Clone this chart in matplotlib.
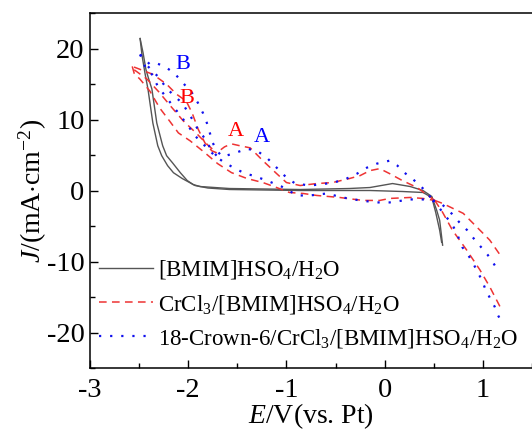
import matplotlib
matplotlib.use("Agg")
import matplotlib.pyplot as plt
from matplotlib.ticker import MultipleLocator

plt.rcParams['font.family'] = ['Liberation Serif', 'DejaVu Serif']
plt.rcParams['mathtext.fontset'] = 'custom'
plt.rcParams['mathtext.rm'] = 'Liberation Serif'
plt.rcParams['mathtext.it'] = 'Liberation Serif:italic'

# ---------------- data (E / V vs Pt, J / mA cm^-2) ----------------
# [BMIM]HSO4/H2O  (two nearly overlapping branches)
gray_a_E = [-2.49, -2.46, -2.43, -2.40, -2.37, -2.32, -2.26, -2.22, -2.16, -2.08, -2.01, -1.95, -1.88, -1.58, -0.86, -0.36, -0.15, 0.08, 0.26, 0.39, 0.48, 0.53, 0.56, 0.59]
gray_a_J = [21.4, 19.4, 17.0, 15.6, 14.3, 9.5, 6.3, 4.9, 3.9, 2.5, 1.4, 0.84, 0.56, 0.28, 0.14, 0.28, 0.42, 0.98, 0.56, 0.0, -0.84, -2.8, -4.2, -7.7]
gray_b_E = [-2.49, -2.47, -2.44, -2.41, -2.36, -2.31, -2.27, -2.21, -2.15, -2.06, -1.93, -1.80, -1.58, -0.86, -0.15, 0.18, 0.39, 0.48, 0.52, 0.56, 0.58]
gray_b_J = [21.4, 19.0, 16.5, 14.3, 9.5, 6.3, 4.9, 3.5, 2.5, 1.68, 0.7, 0.35, 0.14, 0.0, 0.0, -0.14, -0.28, -0.98, -3.1, -5.6, -7.3]

# CrCl3/[BMIM]HSO4/H2O
red_up_E = [0.51, 0.44, 0.33, 0.18, 0.05, -0.05, -0.15, -0.25, -0.36, -0.53, -0.69, -0.86, -1.00, -1.10, -1.24, -1.37, -1.47, -1.56, -1.63, -1.71, -1.76, -1.83, -1.90, -1.96, -2.02, -2.12, -2.22, -2.36, -2.49, -2.57]
red_up_J = [-1.40, -0.70, 0.42, 1.40, 2.38, 3.08, 2.80, 2.10, 1.68, 1.12, 0.98, 0.70, 1.12, 2.38, 4.20, 6.01, 6.29, 6.57, 6.15, 5.31, 5.59, 6.71, 8.67, 10.91, 12.59, 13.57, 14.97, 16.36, 17.06, 17.48]
red_lo_E = [-2.57, -2.55, -2.49, -2.39, -2.29, -2.19, -2.10, -1.98, -1.83, -1.70, -1.56, -1.40, -1.24, -1.10, -0.97, -0.83, -0.69, -0.46, -0.22, -0.05, 0.05, 0.26, 0.39, 0.51]
red_lo_J = [17.48, 16.50, 15.66, 13.99, 11.61, 9.79, 8.11, 6.99, 5.31, 3.78, 2.52, 1.68, 1.12, 0.42, -0.28, -0.42, -0.70, -0.98, -1.40, -1.40, -1.12, -0.98, -1.12, -1.40]
red_mid_E = [-2.55, -2.42, -2.30, -2.18, -2.05, -1.92, -1.80, -1.71]
red_mid_J = [17.0, 15.7, 13.9, 11.9, 9.8, 8.1, 6.4, 5.31]
red_r1_E = [0.51, 0.59, 0.80, 0.97, 1.07, 1.19]
red_r1_J = [-1.40, -1.82, -3.22, -5.59, -6.99, -9.37]
red_r2_E = [0.51, 0.59, 0.69, 0.835, 0.97, 1.07, 1.19]
red_r2_J = [-1.40, -3.08, -5.59, -8.39, -11.19, -13.57, -16.78]

# 18-Crown-6/CrCl3/[BMIM]HSO4/H2O
blue_up_E = [-2.49, -2.39, -2.32, -2.24, -2.14, -2.05, -1.96, -1.90, -1.85, -1.81, -1.78, -1.75, -1.71, -1.65, -1.55, -1.40, -1.30, -1.20, -1.07, -1.00, -0.91, -0.76, -0.59, -0.43, -0.28, -0.18, -0.08, 0.05, 0.13, 0.20, 0.28, 0.36, 0.43, 0.49]
blue_up_J = [19.16, 17.76, 17.90, 17.48, 16.50, 15.10, 13.71, 12.31, 10.91, 9.51, 8.11, 6.71, 5.59, 4.76, 5.17, 5.87, 5.59, 4.62, 2.80, 1.82, 0.98, 0.70, 0.98, 1.40, 2.38, 3.22, 3.78, 4.20, 3.50, 2.52, 1.68, 0.70, -0.28, -1.40]
blue_lo_E = [-2.49, -2.44, -2.37, -2.31, -2.21, -2.10, -2.00, -1.93, -1.83, -1.73, -1.63, -1.52, -1.42, -1.34, -1.20, -1.05, -0.89, -0.76, -0.59, -0.43, -0.25, -0.08, 0.05, 0.26, 0.48]
blue_lo_J = [19.16, 17.48, 16.36, 14.69, 12.87, 10.91, 9.09, 7.69, 6.29, 4.90, 3.92, 3.08, 2.38, 2.10, 1.40, 0.56, -0.70, -0.70, -0.42, -0.98, -1.40, -1.68, -1.68, -1.26, -1.26]
blue_mid_E = [-2.41, -2.31, -2.22, -2.14, -2.06, -2.01, -1.96, -1.91, -1.85, -1.80, -1.76, -1.71]
blue_mid_J = [17.48, 16.08, 14.41, 13.29, 12.31, 11.19, 10.07, 8.81, 7.69, 6.57, 5.59, 4.90]
blue_r1_E = [0.49, 0.56, 0.63, 0.69, 0.76, 0.84, 0.92, 0.99, 1.05, 1.10, 1.15]
blue_r1_J = [-1.40, -1.68, -2.52, -3.36, -4.48, -5.59, -6.99, -8.11, -9.09, -10.07, -11.19]
blue_r2_E = [0.49, 0.56, 0.63, 0.68, 0.73, 0.79, 0.85, 0.90, 0.95, 0.99, 1.02, 1.07, 1.12, 1.15, 1.20]
blue_r2_J = [-1.40, -2.52, -3.78, -4.62, -5.87, -7.97, -9.09, -10.21, -11.61, -12.59, -13.71, -15.10, -16.36, -17.48, -18.74]

labels = ['[BMIM]HSO$_4$/H$_2$O',
          'CrCl$_3$/[BMIM]HSO$_4$/H$_2$O',
          '18-Crown-6/CrCl$_3$/[BMIM]HSO$_4$/H$_2$O']

peak_text = ['B', 'B', 'A', 'A']
peak_E = [-2.05, -2.01, -1.52, -1.25]
peak_J = [17.8, 13.0, 8.3, 7.4]
peak_col = ['blue', 'red', 'red', 'blue']

xt = [-3, -2, -1, 0, 1]
yt = [-20, -10, 0, 10, 20]

# ---------------- plotting ----------------
fig = plt.figure(figsize=(5.32, 4.34), dpi=100)
ax = fig.add_axes([90/532, 66/434, 1 - 90/532, 355/434])

gcol = '#555555'
rcol = '#ee3333'
bcol = '#1010ee'
gkw = dict(color=gcol, lw=1.0, ls='-')
rkw = dict(color=rcol, lw=1.1, ls=(0, (5, 3.5)))
bkw = dict(color=bcol, lw=1.6, ls=(0, (1, 4)))

ax.plot(gray_a_E, gray_a_J, **gkw, label=labels[0])
ax.plot(gray_b_E, gray_b_J, **gkw)
ax.plot(red_up_E, red_up_J, **rkw, label=labels[1])
for xe, yj in [(red_lo_E, red_lo_J), (red_mid_E, red_mid_J), (red_r1_E, red_r1_J), (red_r2_E, red_r2_J)]:
    ax.plot(xe, yj, **rkw)
ax.plot(blue_up_E, blue_up_J, **bkw, label=labels[2])
for xe, yj in [(blue_lo_E, blue_lo_J), (blue_mid_E, blue_mid_J), (blue_r1_E, blue_r1_J), (blue_r2_E, blue_r2_J)]:
    ax.plot(xe, yj, **bkw)

for t, xe, yj, c in zip(peak_text, peak_E, peak_J, peak_col):
    ax.text(xe, yj, t, color=c, fontsize=16, ha='center', va='center')

ax.set_xlim(-3, 1.5)
ax.set_ylim(-25, 25)
ax.set_xticks(xt)
ax.set_xticklabels([str(v) for v in xt])
ax.set_yticks(yt)
ax.set_yticklabels([str(v) for v in yt])
ax.xaxis.set_minor_locator(MultipleLocator(0.5))
ax.yaxis.set_minor_locator(MultipleLocator(5))
ax.tick_params(which='both', direction='in', labelsize=20.5)
ax.tick_params(axis='x', pad=7)
ax.tick_params(axis='y', pad=4)
ax.tick_params(which='major', length=6, width=1)
ax.tick_params(which='minor', length=3.5, width=1)
ax.spines['right'].set_visible(False)
for s in ['left', 'bottom', 'top']:
    ax.spines[s].set_linewidth(1.1)

ax.set_xlabel('$\\mathit{E}$/V(vs. Pt)', fontsize=20, labelpad=-1)
ax.set_ylabel('$\\mathit{J}$/(mA$\\cdot$cm$^{-2}$)', fontsize=20, labelpad=-2)

leg = ax.legend(loc='lower left', frameon=False, fontsize=16.5, handlelength=2.35,
                handletextpad=0.2, labelspacing=0.5, borderaxespad=0.0,
                bbox_to_anchor=(0.0, 0.025))

fig.savefig('out.png', dpi=100)
